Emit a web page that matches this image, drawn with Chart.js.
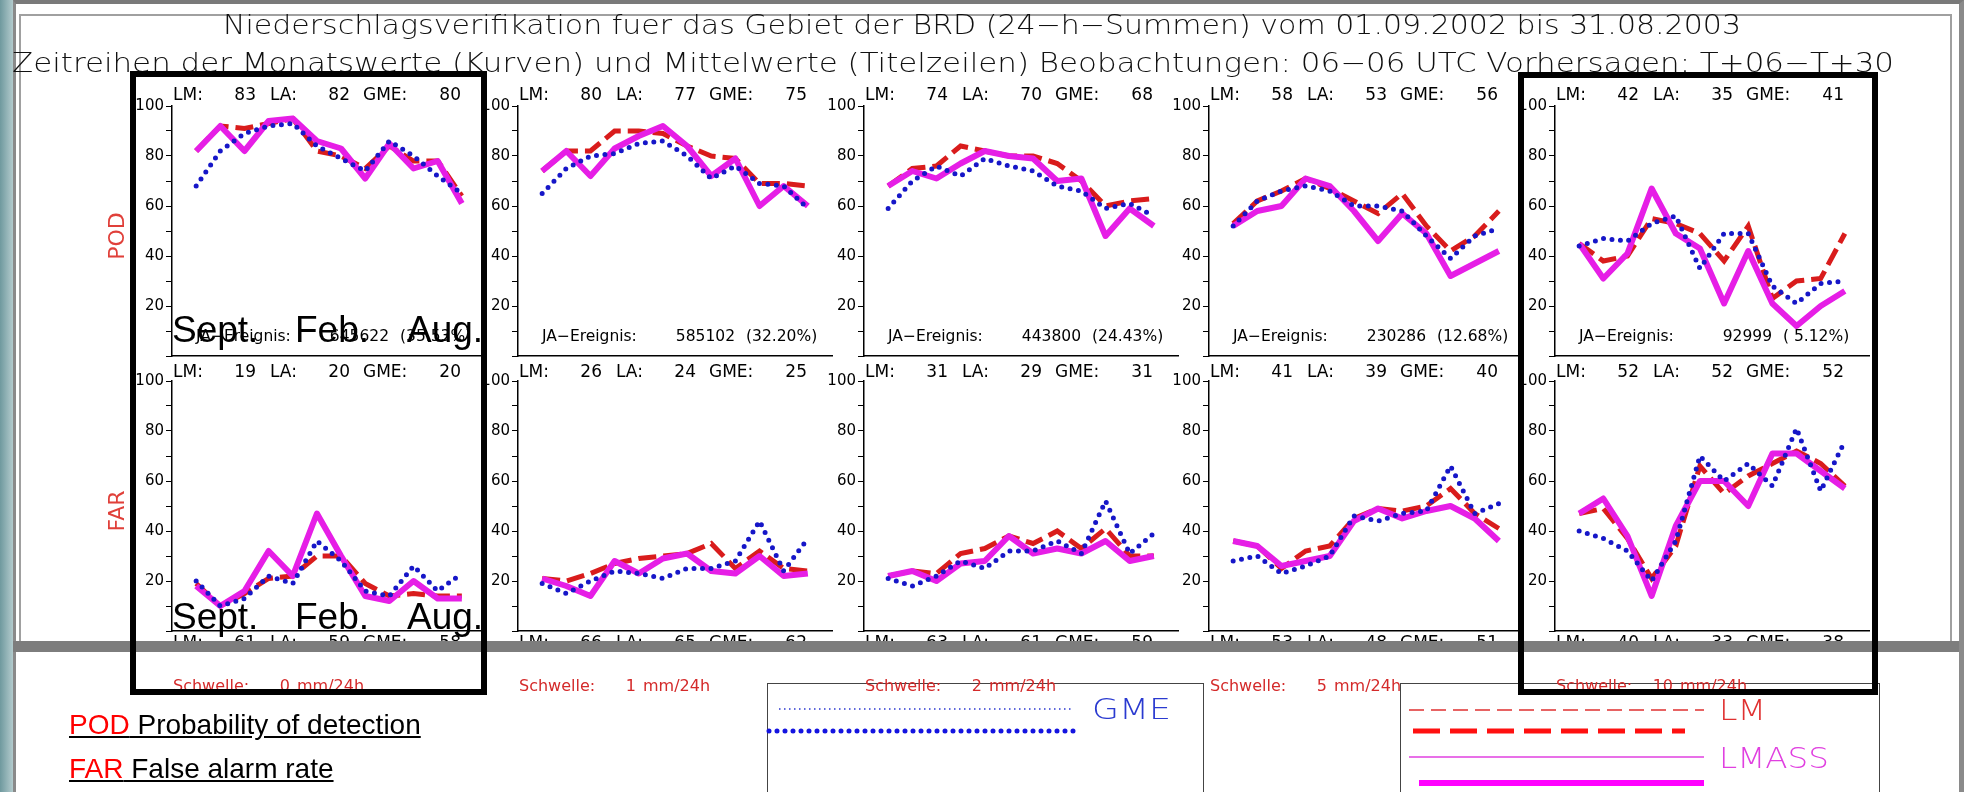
<!DOCTYPE html>
<html><head><meta charset="utf-8">
<script src="https://cdn.jsdelivr.net/npm/chart.js@4.4.1/dist/chart.umd.min.js"></script>
<style>
html,body{margin:0;padding:0;background:#fff;}
#stage{position:relative;width:1964px;height:792px;overflow:hidden;background:#fff;}
.t{position:absolute;white-space:pre;line-height:1;}
canvas{position:absolute;}
.box{position:absolute;box-sizing:border-box;}
</style></head>
<body><div id="stage"></div>
<script>
// ---------------- data ----------------
const months = ['Sep','Oct','Nov','Dec','Jan','Feb','Mar','Apr','May','Jun','Jul','Aug'];
const thresholds = ['0','1','2','5','10'];

// POD (%) per threshold panel, monthly values
const podLM = [
  [82, 92, 91, 93, 95, 82, 80, 75, 84, 78, 78, 64],
  [74, 82, 82, 90, 90, 89, 84, 80, 79, 69, 69, 68],
  [68, 75, 76, 84, 82, 80, 80, 77, 70, 60, 62, 63],
  [53, 62, 66, 71, 67, 62, 57, 65, 52, 42, 48, 58],
  [45, 38, 40, 55, 53, 49, 38, 52, 23, 30, 31, 49]
];
const podLMASS = [
  [82, 92, 82, 94, 95, 86, 83, 71, 85, 75, 78, 61],
  [74, 82, 72, 83, 88, 92, 84, 72, 79, 60, 68, 60],
  [68, 74, 71, 77, 82, 80, 79, 70, 71, 48, 59, 52],
  [52, 58, 60, 71, 68, 58, 46, 57, 49, 32, 37, 42],
  [45, 31, 41, 67, 49, 43, 21, 42, 21, 12, 20, 26]
];
const podGME = [
  [68, 82, 89, 92, 93, 84, 79, 74, 86, 80, 72, 65],
  [65, 75, 80, 81, 85, 86, 80, 71, 76, 69, 68, 59],
  [59, 70, 76, 72, 79, 76, 74, 68, 66, 59, 61, 56],
  [52, 62, 66, 68, 66, 60, 60, 58, 48, 39, 48, 51],
  [44, 47, 46, 53, 56, 35, 49, 49, 28, 21, 29, 30]
];
// FAR (%)
const farLM = [
  [19, 10, 15, 21, 22, 30, 30, 19, 14, 15, 14, 14],
  [21, 20, 23, 27, 29, 30, 31, 35, 25, 32, 25, 24],
  [22, 24, 23, 31, 33, 38, 35, 40, 33, 41, 30, 30],
  [36, 34, 25, 32, 34, 45, 49, 48, 50, 57, 47, 41],
  [47, 49, 37, 21, 34, 66, 55, 62, 67, 72, 67, 58]
];
const farLMASS = [
  [18, 10, 16, 32, 22, 47, 30, 14, 12, 20, 13, 13],
  [21, 18, 14, 28, 23, 29, 31, 24, 23, 30, 22, 23],
  [22, 24, 20, 27, 28, 38, 31, 33, 31, 36, 28, 30],
  [36, 34, 26, 28, 30, 44, 49, 45, 48, 50, 45, 36],
  [47, 53, 38, 14, 42, 60, 60, 50, 71, 71, 64, 57]
];
const farGME = [
  [20, 10, 13, 22, 19, 36, 28, 16, 14, 26, 16, 23],
  [19, 15, 20, 24, 23, 21, 25, 25, 28, 44, 24, 37],
  [21, 18, 22, 28, 25, 32, 32, 36, 31, 52, 31, 39],
  [28, 30, 23, 26, 30, 46, 44, 47, 48, 66, 47, 51],
  [40, 37, 32, 20, 36, 70, 60, 67, 58, 81, 56, 76]
];
// mean values shown in the panel title lines
const podMeanLM  = [83, 80, 74, 58, 42];
const podMeanLA  = [82, 77, 70, 53, 35];
const podMeanGME = [80, 75, 68, 56, 41];
const farMeanLM  = [19, 26, 31, 41, 52];
const farMeanLA  = [20, 24, 29, 39, 52];
const farMeanGME = [20, 25, 31, 40, 52];
const row3MeanLM  = [61, 66, 63, 53, 40];
const row3MeanLA  = [59, 65, 61, 48, 33];
const row3MeanGME = [58, 62, 59, 51, 38];
const jaCount = ['645622', '585102', '443800', '230286', '92999'];
const jaPct   = ['(35.53%)', '(32.20%)', '(24.43%)', '(12.68%)', '( 5.12%)'];
const yTickLabels = [20, 40, 60, 80, 100];
const overlayMonths = ['Sept.', 'Feb.', 'Aug.'];

const title1 = 'Niederschlagsverifikation fuer das Gebiet der BRD (24\u2212h\u2212Summen) vom 01.09.2002 bis 31.08.2003';
const title2 = 'Zeitreihen der Monatswerte (Kurven) und Mittelwerte (Titelzeilen) Beobachtungen: 06\u221206 UTC Vorhersagen: T+06\u2212T+30';

// ---------------- layout ----------------
const stage = document.getElementById('stage');
const AXIS_X = [172, 518, 864, 1209, 1555];
const ROW_TOP = [106, 381];
const PLOT_W = 314, PLOT_H = 250;
const DJ = '"DejaVu Sans", sans-serif';
const LIB = '"Liberation Sans", Arial, sans-serif';

function addDiv(css) {
  const d = document.createElement('div');
  d.className = 'box';
  Object.assign(d.style, css);
  stage.appendChild(d);
  return d;
}
function addText(str, o) {
  const el = document.createElement('div');
  el.className = 't';
  el.textContent = str;
  el.style.fontFamily = o.family || DJ;
  el.style.fontSize = o.size + 'px';
  el.style.fontWeight = o.weight || 'normal';
  el.style.lineHeight = '1';
  el.style.color = o.color || '#000';
  el.style.zIndex = o.z || 5;
  el.style.top = (o.cy - 0.48 * o.size) + 'px';
  stage.appendChild(el);
  const w = el.getBoundingClientRect().width;
  let left = o.x;
  if (o.align === 'right') left = o.x - w;
  if (o.align === 'center') left = o.x - w / 2;
  el.style.left = left + 'px';
  if (o.width) {
    el.style.transformOrigin = '0 50%';
    el.style.transform = 'scaleX(' + (o.width / w) + ')';
  }
  return el;
}

// frame
addDiv({left:'0px', top:'0px', width:'13px', height:'792px', background:'linear-gradient(90deg,#6f999e,#b3cbcd)', zIndex:1});
addDiv({left:'13px', top:'0px', width:'1951px', height:'792px', borderTop:'4px solid #7a7a7a', borderLeft:'3px solid #8a8a8a', borderRight:'5px solid #8a8a8a', zIndex:1});
addDiv({left:'19px', top:'14px', width:'1933px', height:'637px', border:'2px solid #a0a0a0', zIndex:1});
addDiv({left:'13px', top:'641px', width:'1946px', height:'11px', background:'#7d7d7d', zIndex:8});

// main titles
addText(title1, {x:223, cy:24, size:27, weight:200, color:'#111', width:1518});
addText(title2, {x:12, cy:62, size:27, weight:200, color:'#111', width:1882});

// panel charts
function makeChart(p, r, lm, la, gme) {
  const c = document.createElement('canvas');
  const W = 40 + PLOT_W + 6, H = PLOT_H + 24;
  c.width = W; c.height = H;
  c.style.left = (AXIS_X[p] - 40) + 'px';
  c.style.top = (ROW_TOP[r] - 12) + 'px';
  c.style.width = W + 'px'; c.style.height = H + 'px';
  c.style.zIndex = 2;
  stage.appendChild(c);
  const pts = arr => arr.map((v, i) => ({x: i + 1, y: v}));
  new Chart(c, {
    type: 'line',
    data: {
      datasets: [
        {label:'GME', data: pts(gme), borderColor:'#1616c8', borderWidth:5, borderDash:[0, 8.5], borderCapStyle:'round', pointRadius:0, fill:false, tension:0},
        {label:'LMASS', data: pts(la), borderColor:'#e61ee6', borderWidth:6, borderJoinStyle:'round', pointRadius:0, fill:false, tension:0},
        {label:'LM', data: pts(lm), borderColor:'#d91c1c', borderWidth:5, borderDash:[18, 7], pointRadius:0, fill:false, tension:0}
      ]
    },
    options: {
      responsive:false, animation:false, devicePixelRatio:1,
      layout:{padding:{top:12, bottom:12, left:0, right:6}},
      plugins:{legend:{display:false}, tooltip:{enabled:false}, title:{display:false}},
      scales:{
        x:{type:'linear', min:0, max:13,
           grid:{display:true, drawOnChartArea:false, drawTicks:false},
           border:{display:true, color:'#000', width:1.5},
           ticks:{display:false},
           afterFit: s => { s.height = 0; }},
        y:{type:'linear', min:0, max:100,
           afterFit: s => { s.width = 40; },
           ticks:{stepSize:10, autoSkip:false, padding:2, color:'#000',
                  font:{family:'DejaVu Sans', size:15},
                  callback: v => yTickLabels.includes(v) ? String(v) : ''},
           grid:{display:true, drawOnChartArea:false, drawTicks:true, tickLength:6, color:'#000', lineWidth:1},
           border:{display:true, color:'#000', width:1.5}}
      }
    }
  });
}

function titleRow(p, cy, a, b, g) {
  const x0 = AXIS_X[p];
  const s = 17;
  addText('LM:', {x:x0 + 1, cy, size:s});
  addText(String(a), {x:x0 + 84, cy, size:s, align:'right'});
  addText('LA:', {x:x0 + 98, cy, size:s});
  addText(String(b), {x:x0 + 178, cy, size:s, align:'right'});
  addText('GME:', {x:x0 + 191, cy, size:s});
  addText(String(g), {x:x0 + 289, cy, size:s, align:'right'});
}

for (let p = 0; p < 5; p++) {
  makeChart(p, 0, podLM[p], podLMASS[p], podGME[p]);
  makeChart(p, 1, farLM[p], farLMASS[p], farGME[p]);
  titleRow(p, 94, podMeanLM[p], podMeanLA[p], podMeanGME[p]);
  titleRow(p, 371, farMeanLM[p], farMeanLA[p], farMeanGME[p]);
  titleRow(p, 642, row3MeanLM[p], row3MeanLA[p], row3MeanGME[p]);
  const x0 = AXIS_X[p];
  addText('JA\u2212Ereignis:', {x:x0 + 24, cy:336, size:15.5});
  addText(jaCount[p], {x:x0 + 217, cy:336, size:15.5, align:'right'});
  addText(jaPct[p], {x:x0 + 228, cy:336, size:15.5});
  addText('Schwelle:', {x:x0 + 1, cy:686, size:16, color:'#d42a2a'});
  addText(thresholds[p], {x:x0 + 118, cy:686, size:16, color:'#d42a2a', align:'right'});
  addText('mm/24h', {x:x0 + 125, cy:686, size:16, color:'#d42a2a'});
}

// vertical row labels
function vText(str, cx, cy, size, color) {
  const el = addText(str, {x:cx, cy, size, color, align:'center'});
  el.style.transformOrigin = '50% 50%';
  el.style.transform = 'rotate(-90deg)';
}
vText('POD', 117, 236, 22, '#e0403a');
vText('FAR', 117, 511, 22, '#e0403a');

// month overlays on first column
const monthOffsets = [0, 123, 235];
[342, 629].forEach(base => {
  overlayMonths.forEach((m, i) => {
    addText(m, {x:AXIS_X[0] + monthOffsets[i], cy: base - 13.5, size:37, family:LIB, z:6});
  });
});

// highlight boxes
addDiv({left:'130px', top:'71px', width:'357px', height:'624px', border:'6px solid #000', zIndex:10});
addDiv({left:'1518px', top:'72px', width:'360px', height:'623px', border:'6px solid #000', zIndex:10});

// bottom-left explanation
function legendLine(code, rest, cy) {
  const el = document.createElement('div');
  el.className = 't';
  el.style.fontFamily = LIB; el.style.fontSize = '28px'; el.style.lineHeight = '1';
  el.style.textDecoration = 'underline'; el.style.color = '#000';
  el.style.left = '69px'; el.style.top = (cy - 0.48 * 28) + 'px'; el.style.zIndex = 5;
  const s = document.createElement('span'); s.style.color = '#ff0000'; s.textContent = code;
  el.appendChild(s);
  el.appendChild(document.createTextNode(' ' + rest));
  stage.appendChild(el);
}
legendLine('POD', 'Probability of detection', 724);
legendLine('FAR', 'False alarm rate', 768);

// series legend boxes
const svgNS = 'http://www.w3.org/2000/svg';
const svg = document.createElementNS(svgNS, 'svg');
svg.setAttribute('width', '1964'); svg.setAttribute('height', '792');
svg.style.position = 'absolute'; svg.style.left = '0'; svg.style.top = '0'; svg.style.zIndex = 4;
stage.appendChild(svg);
function sv(tag, attrs) { const e = document.createElementNS(svgNS, tag); for (const k in attrs) e.setAttribute(k, attrs[k]); svg.appendChild(e); return e; }
sv('rect', {x:767.5, y:683.5, width:436, height:120, fill:'none', stroke:'#444', 'stroke-width':1});
sv('rect', {x:1400.5, y:683.5, width:479, height:120, fill:'none', stroke:'#444', 'stroke-width':1});
sv('line', {x1:779, y1:709, x2:1071, y2:709, stroke:'#2a36d0', 'stroke-width':1.5, 'stroke-dasharray':'1.5 3.5'});
sv('line', {x1:769, y1:731, x2:1077, y2:731, stroke:'#1414e0', 'stroke-width':5, 'stroke-dasharray':'0 8', 'stroke-linecap':'round'});
sv('line', {x1:1409, y1:710, x2:1704, y2:710, stroke:'#e03030', 'stroke-width':1.5, 'stroke-dasharray':'15 7'});
sv('line', {x1:1413, y1:731, x2:1685, y2:731, stroke:'#ff1010', 'stroke-width':5, 'stroke-dasharray':'27 10'});
sv('line', {x1:1409, y1:757, x2:1704, y2:757, stroke:'#e040e0', 'stroke-width':1.5});
sv('line', {x1:1419, y1:783, x2:1704, y2:783, stroke:'#ff00ff', 'stroke-width':6});
addText('GME', {x:1092, cy:709, size:28, weight:200, color:'#2a3ad0', width:79});
addText('LM', {x:1719, cy:710, size:28, weight:200, color:'#e03030', width:47});
addText('LMASS', {x:1719, cy:758, size:28, weight:200, color:'#e040e0', width:110});
</script>
</body></html>
